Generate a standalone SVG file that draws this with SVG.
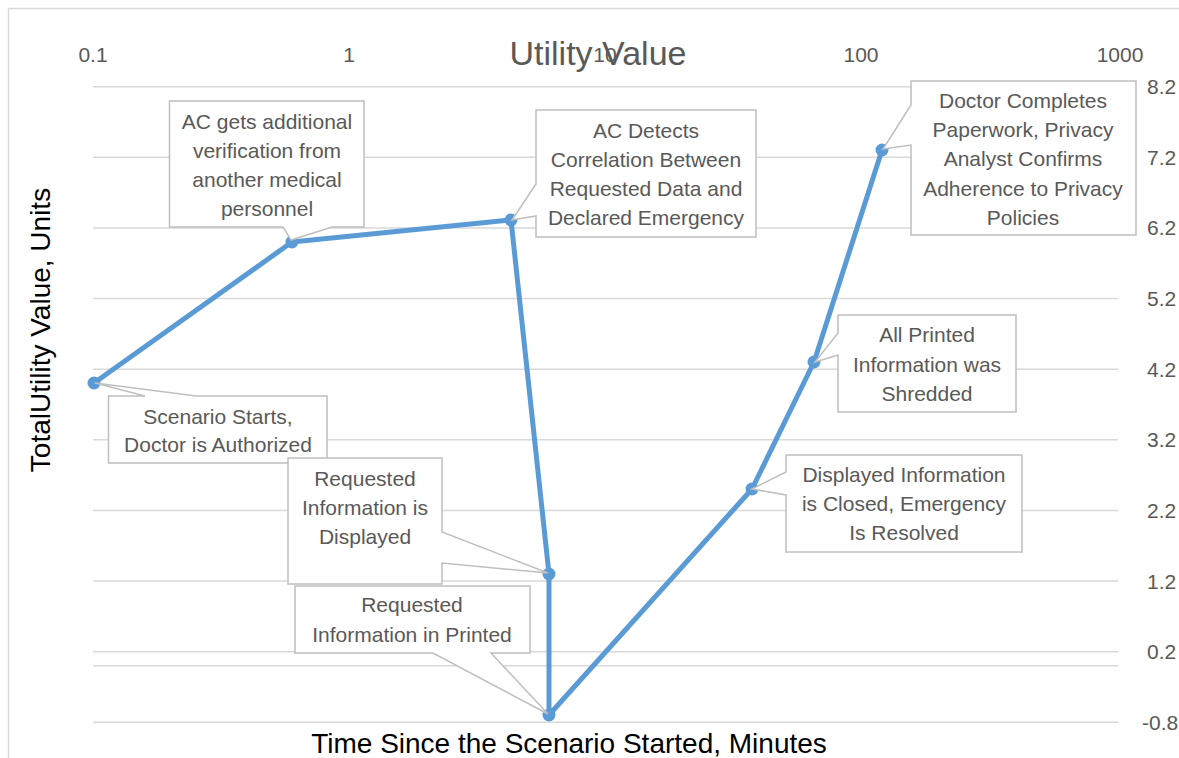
<svg xmlns="http://www.w3.org/2000/svg" width="1179" height="758" viewBox="0 0 1179 758">
  <style>
    .grid { stroke: #D9D9D9; stroke-width: 1.5; fill: none; }
    .tick { font-family: "Liberation Sans", Arial, sans-serif; font-size: 21px; fill: #595959; }
    .title { font-family: "Liberation Sans", Arial, sans-serif; font-size: 34px; fill: #595959; text-anchor: middle; }
    .axis-title { font-family: "Liberation Sans", Arial, sans-serif; font-size: 28px; fill: #000000; text-anchor: middle; }
    .callout path { fill: #FFFFFF; stroke: #BFBFBF; stroke-width: 1.5; }
    .callout text { font-family: "Liberation Sans", Arial, sans-serif; font-size: 21px; fill: #595959; text-anchor: middle; }
    .series { fill: none; stroke: #5B9BD5; stroke-width: 5; stroke-linejoin: round; stroke-linecap: round; }
    .pt { fill: #5B9BD5; }
  </style>

  <rect x="0" y="0" width="1179" height="758" fill="#FFFFFF"/>
  <!-- chart area border -->
  <rect x="8.5" y="8.5" width="1185" height="770" fill="none" stroke="#D9D9D9" stroke-width="1.5"/>

  <!-- horizontal gridlines (right value axis -0.8 .. 8.2) -->
  <g id="gridlines" class="grid">
    <line x1="93" y1="86.7" x2="1118" y2="86.7"/>
    <line x1="93" y1="157.3" x2="1118" y2="157.3"/>
    <line x1="93" y1="227.9" x2="1118" y2="227.9"/>
    <line x1="93" y1="298.6" x2="1118" y2="298.6"/>
    <line x1="93" y1="369.2" x2="1118" y2="369.2"/>
    <line x1="93" y1="439.8" x2="1118" y2="439.8"/>
    <line x1="93" y1="510.4" x2="1118" y2="510.4"/>
    <line x1="93" y1="581" x2="1118" y2="581"/>
    <line x1="93" y1="651.7" x2="1118" y2="651.7"/>
    <line x1="93" y1="665.8" x2="1118" y2="665.8"/>
    <line x1="93" y1="722.3" x2="1118" y2="722.3"/>
  </g>

  <!-- top log axis labels -->
  <g id="x-axis-labels" class="tick" text-anchor="middle">
    <text x="93" y="62">0.1</text>
    <text x="349" y="62">1</text>
    <text x="605" y="62">10</text>
    <text x="861" y="62">100</text>
    <text x="1120" y="62">1000</text>
  </g>

  <!-- right value axis labels -->
  <g id="y-axis-labels" class="tick">
    <text x="1147" y="94.2">8.2</text>
    <text x="1147" y="164.8">7.2</text>
    <text x="1147" y="235.4">6.2</text>
    <text x="1147" y="306.1">5.2</text>
    <text x="1147" y="376.7">4.2</text>
    <text x="1147" y="447.3">3.2</text>
    <text x="1147" y="517.9">2.2</text>
    <text x="1147" y="588.5">1.2</text>
    <text x="1147" y="659.2">0.2</text>
    <text x="1142" y="729.8">-0.8</text>
  </g>

  <text id="chart-title" class="title" x="598" y="65">Utility Value</text>
  <text id="x-title" class="axis-title" x="569" y="753">Time Since the Scenario Started, Minutes</text>
  <text id="y-title" class="axis-title" transform="translate(50,330) rotate(-90)">TotalUtility Value, Units</text>

  <!-- data series -->
  <g id="connectors">
    <polyline class="series" points="94,383 292,242 511,220 549,574 549,715 752,489 814,362 882,150"/>
  </g>
  <g id="points">
    <circle id="p1" class="pt" cx="94" cy="383" r="6.5"/>
    <circle id="p2" class="pt" cx="292" cy="242" r="6.5"/>
    <circle id="p3" class="pt" cx="511" cy="220" r="6.5"/>
    <circle id="p4" class="pt" cx="549" cy="574" r="6.5"/>
    <circle id="p5" class="pt" cx="549" cy="715" r="6.5"/>
    <circle id="p6" class="pt" cx="752" cy="489" r="6.5"/>
    <circle id="p7" class="pt" cx="814" cy="362" r="6.5"/>
    <circle id="p8" class="pt" cx="882" cy="150" r="6.5"/>
  </g>

  <!-- data callouts -->
  <g id="callout-verification" class="callout">
    <path d="M169.5,101 H364 V227 H332 L291,240 L283,227 H169.5 Z"/>
    <text x="267" y="129">AC gets additional</text>
    <text x="267" y="158">verification from</text>
    <text x="267" y="187">another medical</text>
    <text x="267" y="216">personnel</text>
  </g>

  <g id="callout-correlation" class="callout">
    <path d="M536,110 H756 V237 H536 V216 L512,220 L536,184 Z"/>
    <text x="646" y="138">AC Detects</text>
    <text x="646" y="167">Correlation Between</text>
    <text x="646" y="196">Requested Data and</text>
    <text x="646" y="225">Declared Emergency</text>
  </g>

  <g id="callout-paperwork" class="callout">
    <path d="M911,81 H1136 V235 H911 V145 L883,149 L911,105 Z"/>
    <text x="1023" y="108">Doctor Completes</text>
    <text x="1023" y="137">Paperwork, Privacy</text>
    <text x="1023" y="166">Analyst Confirms</text>
    <text x="1023" y="196">Adherence to Privacy</text>
    <text x="1023" y="225">Policies</text>
  </g>

  <g id="callout-start" class="callout">
    <path d="M108.5,396 H145 L95,383 L196,396 H327 V463 H108.5 Z"/>
    <text x="218" y="424">Scenario Starts,</text>
    <text x="218" y="452">Doctor is Authorized</text>
  </g>

  <g id="callout-displayed" class="callout">
    <path d="M288,458 H442 V532 L548,573 L442,563 V584 H288 Z"/>
    <text x="365" y="486">Requested</text>
    <text x="365" y="515">Information is</text>
    <text x="365" y="544">Displayed</text>
  </g>

  <g id="callout-printed" class="callout">
    <path d="M295,586 H530 V653 H491 L548,714 L433,653 H295 Z"/>
    <text x="412" y="612">Requested</text>
    <text x="412" y="642">Information in Printed</text>
  </g>

  <g id="callout-shredded" class="callout">
    <path d="M838,315 H1016 V412 H838 V355 L815,362 L838,333 Z"/>
    <text x="927" y="342">All Printed</text>
    <text x="927" y="372">Information was</text>
    <text x="927" y="401">Shredded</text>
  </g>

  <g id="callout-resolved" class="callout">
    <path d="M786,455 H1022 V552 H786 V495 L752,489 L786,472 Z"/>
    <text x="904" y="482">Displayed Information</text>
    <text x="904" y="511">is Closed, Emergency</text>
    <text x="904" y="540">Is Resolved</text>
  </g>
</svg>
